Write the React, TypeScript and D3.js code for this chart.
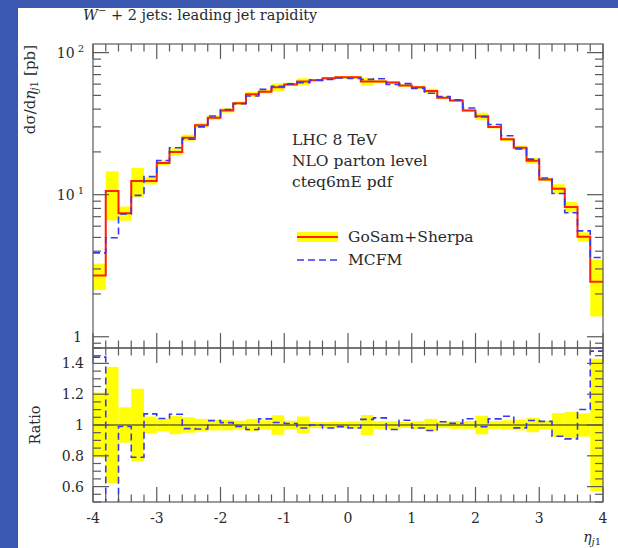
import React from 'react';
import * as d3 from 'd3';

// bins in leading jet rapidity, width 0.2
const binLo = [
  -4.0, -3.8, -3.6, -3.4, -3.2, -3.0, -2.8, -2.6, -2.4, -2.2,
  -2.0, -1.8, -1.6, -1.4, -1.2, -1.0, -0.8, -0.6, -0.4, -0.2,
  0.0, 0.2, 0.4, 0.6, 0.8, 1.0, 1.2, 1.4, 1.6, 1.8,
  2.0, 2.2, 2.4, 2.6, 2.8, 3.0, 3.2, 3.4, 3.6, 3.8,
];
const binWidth = 0.2;

// GoSam+Sherpa central value [pb] and its uncertainty
const gosam = [
  2.7, 10.6, 7.4, 12.5, 12.5, 16.7, 20.0, 25.2, 30.8, 34.8,
  39.2, 44.1, 51.0, 53.0, 57.0, 59.7, 62.5, 64.0, 66.0, 67.0,
  67.0, 62.5, 62.5, 61.5, 58.7, 57.1, 53.6, 48.1, 46.0, 39.2,
  35.6, 30.0, 24.6, 21.4, 17.3, 12.8, 11.0, 8.2, 5.05, 2.44,
];
const gosamErr = [
  0.57, 4.0, 0.85, 2.94, 0.69, 0.67, 1.2, 1.26, 1.23, 1.22,
  1.37, 1.23, 2.04, 1.59, 3.59, 1.67, 3.44, 1.28, 1.32, 1.34,
  1.54, 4.06, 1.56, 1.54, 1.17, 1.43, 2.14, 0.96, 1.15, 0.98,
  2.14, 0.75, 0.74, 0.75, 0.81, 0.36, 0.85, 0.70, 0.38, 1.05,
];
// MCFM [pb]
const mcfm = [
  3.89, 4.98, 7.33, 9.88, 13.4, 17.4, 21.4, 24.6, 30.0, 35.8,
  39.8, 43.7, 49.5, 55.1, 57.9, 60.3, 61.3, 64.0, 64.7, 66.3,
  65.7, 64.8, 65.4, 59.7, 60.5, 56.0, 51.7, 49.1, 46.5, 40.8,
  35.2, 31.2, 26.0, 21.0, 17.8, 13.1, 10.2, 7.46, 5.56, 3.61,
];

const xMajor = [-4, -3, -2, -1, 0, 1, 2, 3, 4];
const xLabels = ['-4', '-3', '-2', '-1', '0', '1', '2', '3', '4'];
const logMajor = [1, 10, 100];
const logExp = ['', '1', '2'];
const ratioMajor = [0.6, 0.8, 1, 1.2, 1.4];
const ratioLabels = ['0.6', '0.8', '1', '1.2', '1.4'];
const infoLines = ['LHC 8 TeV', 'NLO parton level', 'cteq6mE pdf'];
const legendNames = ['GoSam+Sherpa', 'MCFM'];

const W = 618;
const H = 548;
const left = 93, right = 603, top = 44, mid = 348, bottom = 502;

const serif = "'DejaVu Serif', 'Liberation Serif', serif";
const axisColor = '#5a5a5a';
const textColor = '#2a2a2a';
const red = '#ff2200';
const yellow = '#ffff00';
const blue = '#3838f2';

const x = d3.scaleLinear().domain([-4, 4]).range([left, right]);
const yTop = d3.scaleLog().domain([0.833, 115]).range([mid, top]);
const yRat = d3.scaleLinear().domain([0.5, 1.5]).range([bottom, mid]);

const stepPath = (vals: number[], y: (v: number) => number) => {
  const pts: [number, number][] = [];
  vals.forEach((v, i) => {
    pts.push([x(binLo[i]), y(v)]);
    pts.push([x(binLo[i] + binWidth), y(v)]);
  });
  return d3.line()(pts) || '';
};

const xMinor = d3.range(-4, 4.0001, 0.2).filter(v => Math.abs(v - Math.round(v)) > 1e-6);
const logMinor = [0.9, ...[2, 3, 4, 5, 6, 7, 8, 9].flatMap(m => [m, m * 10])];
const ratioMinor = d3.range(0.5, 1.5001, 0.05).filter(v => !ratioMajor.some(m => Math.abs(m - v) < 1e-6));

const App = () => {
  const ratio = mcfm.map((v, i) => v / gosam[i]);
  const ones = gosam.map(() => 1);

  // ticks pointing inwards on all four sides of a panel
  const panelTicks = (
    y0: number, y1: number,
    yMaj: number[], yMin: number[], yScale: (v: number) => number, key: string
  ) => {
    const out: JSX.Element[] = [];
    xMajor.forEach((v, i) => {
      out.push(<line key={`${key}xt${i}`} x1={x(v)} x2={x(v)} y1={y0} y2={y0 + 15} />);
      out.push(<line key={`${key}xb${i}`} x1={x(v)} x2={x(v)} y1={y1} y2={y1 - 15} />);
    });
    xMinor.forEach((v, i) => {
      out.push(<line key={`${key}mt${i}`} x1={x(v)} x2={x(v)} y1={y0} y2={y0 + 7.5} />);
      out.push(<line key={`${key}mb${i}`} x1={x(v)} x2={x(v)} y1={y1} y2={y1 - 7.5} />);
    });
    yMaj.forEach((v, i) => {
      out.push(<line key={`${key}yl${i}`} x1={left} x2={left + 16} y1={yScale(v)} y2={yScale(v)} />);
      out.push(<line key={`${key}yr${i}`} x1={right} x2={right - 16} y1={yScale(v)} y2={yScale(v)} />);
    });
    yMin.forEach((v, i) => {
      out.push(<line key={`${key}nl${i}`} x1={left} x2={left + 8} y1={yScale(v)} y2={yScale(v)} />);
      out.push(<line key={`${key}nr${i}`} x1={right} x2={right - 8} y1={yScale(v)} y2={yScale(v)} />);
    });
    return out;
  };

  return (
    <svg width={W} height={H} style={{ position: 'absolute', left: 0, top: 0 }} fontFamily={serif}>
      <defs>
        <clipPath id="clipTop">
          <rect x={left} y={top} width={right - left} height={mid - top} />
        </clipPath>
        <clipPath id="clipRat">
          <rect x={left} y={mid} width={right - left} height={bottom - mid} />
        </clipPath>
      </defs>
      <rect x={0} y={0} width={W} height={H} fill="#3b58b0" />
      <rect x={18} y={8} width={W - 18} height={H - 8} fill="#fff" />

      <text x={83} y={20} fontSize={14.5} fill={textColor}>
        <tspan fontStyle="italic">W</tspan>
        <tspan dy={-6} fontSize={10}>−</tspan>
        <tspan dy={6}> + 2 jets: leading jet rapidity</tspan>
      </text>

      {/* main panel */}
      <g clipPath="url(#clipTop)">
        {gosam.map((v, i) => (
          <rect key={`band${i}`} x={x(binLo[i])} width={x(binLo[i] + binWidth) - x(binLo[i])}
            y={yTop(v + gosamErr[i])} height={yTop(v - gosamErr[i]) - yTop(v + gosamErr[i])} fill={yellow} />
        ))}
        <path d={stepPath(gosam, yTop)} fill="none" stroke={red} strokeWidth={2} />
        <path d={stepPath(mcfm, yTop)} fill="none" stroke={blue} strokeWidth={1.6} strokeDasharray="7,4" />
      </g>

      {/* ratio panel */}
      <g clipPath="url(#clipRat)">
        {gosam.map((v, i) => (
          <rect key={`rband${i}`} x={x(binLo[i])} width={x(binLo[i] + binWidth) - x(binLo[i])}
            y={yRat(1 + gosamErr[i] / v)} height={yRat(1 - gosamErr[i] / v) - yRat(1 + gosamErr[i] / v)} fill={yellow} />
        ))}
        <path d={stepPath(ones, yRat)} fill="none" stroke="#222" strokeWidth={1} />
        <path d={stepPath(ratio, yRat)} fill="none" stroke={blue} strokeWidth={1.6} strokeDasharray="7,4" />
      </g>

      <g stroke={axisColor} strokeWidth={1.2} fill="none">
        <rect x={left} y={top} width={right - left} height={mid - top} />
        <rect x={left} y={mid} width={right - left} height={bottom - mid} />
        {panelTicks(top, mid, logMajor, logMinor, yTop, 'a')}
        {panelTicks(mid, bottom, ratioMajor, ratioMinor, yRat, 'b')}
      </g>

      {/* tick labels */}
      <g fontSize={14} fill={textColor}>
        {logMajor.map((v, i) => (
          logExp[i] === ''
            ? <text key={`ll${i}`} x={82} y={yTop(v) + 5} textAnchor="end">1</text>
            : <text key={`ll${i}`} x={84} y={yTop(v) + 5} textAnchor="end">
                10<tspan dx={3} dy={-6} fontSize={10}>{logExp[i]}</tspan>
              </text>
        ))}
        {ratioMajor.map((v, i) => (
          <text key={`rl${i}`} x={84} y={yRat(v) + 5} textAnchor="end">{ratioLabels[i]}</text>
        ))}
        {xMajor.map((v, i) => (
          <text key={`xl${i}`} x={x(v)} y={523} textAnchor="middle">{xLabels[i]}</text>
        ))}
      </g>

      {/* axis titles */}
      <text transform="translate(35,45) rotate(-90)" textAnchor="end" fontSize={15} fill={textColor}>
        dσ/d<tspan fontStyle="italic">η</tspan>
        <tspan dy={3} fontSize={10.5} fontStyle="italic">j</tspan>
        <tspan fontSize={10.5}>1</tspan>
        <tspan dy={-3}> [pb]</tspan>
      </text>
      <text transform={`translate(40,${yRat(1)}) rotate(-90)`} textAnchor="middle" fontSize={14.5} fill={textColor}>
        Ratio
      </text>
      <text x={601} y={542} textAnchor="end" fontSize={14} fill={textColor}>
        <tspan fontStyle="italic">η</tspan>
        <tspan dy={3} fontSize={10} fontStyle="italic">j</tspan>
        <tspan fontSize={10}>1</tspan>
      </text>

      {/* annotations */}
      <g fontSize={15.5} fill={textColor}>
        {infoLines.map((t, i) => (
          <text key={`info${i}`} x={292} y={145 + i * 21}>{t}</text>
        ))}
      </g>

      {/* legend */}
      <g>
        <line x1={297} x2={338} y1={237} y2={237} stroke={yellow} strokeWidth={10} />
        <line x1={297} x2={338} y1={237} y2={237} stroke={red} strokeWidth={2} />
        <line x1={297} x2={338} y1={260} y2={260} stroke={blue} strokeWidth={1.6} strokeDasharray="7,4" />
        <text x={348} y={242} fontSize={15.5} fill={textColor}>{legendNames[0]}</text>
        <text x={348} y={265} fontSize={15.5} fill={textColor}>{legendNames[1]}</text>
      </g>
    </svg>
  );
};

export default App;
